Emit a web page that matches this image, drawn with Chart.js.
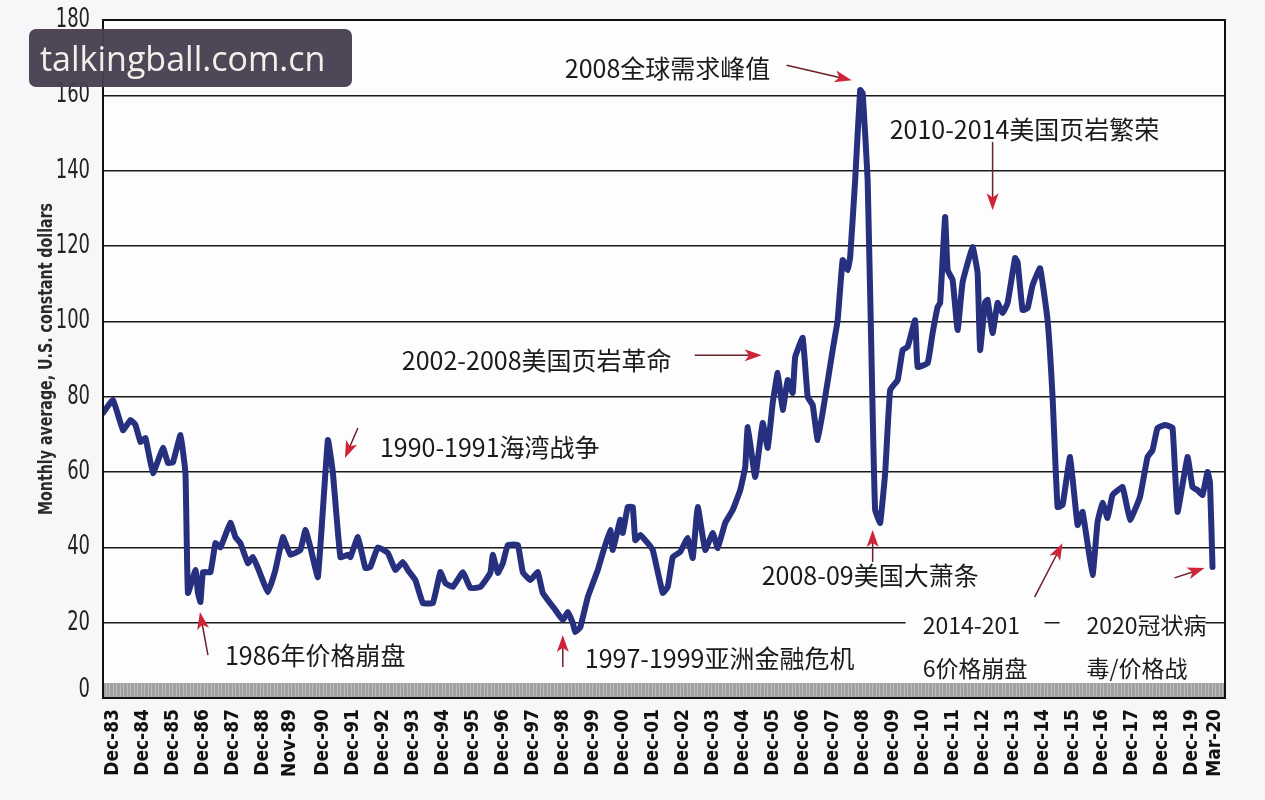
<!DOCTYPE html>
<html>
<head>
<meta charset="utf-8">
<script src="https://cdn.jsdelivr.net/npm/chart.js@4.4.1/dist/chart.umd.min.js"></script>
<style>
  html, body { margin: 0; padding: 0; background: #f7f7f9; }
  #wrap { width: 1265px; height: 800px; }
</style>
</head>
<body>
<div id="wrap"><canvas id="graph"></canvas></div>
<script>
// months after Dec-83, as placed along the chart's x axis
const monthIdx = [-4,0,4,7,9,11,13,16,20,22,24,27,29,30,33,34,35,36,39,41,43,47,49,51,54,56,58,62,65,68,
  71,75,77,79,82,86,88,91,94,95,98,101,103,106,110,113,116,118,121,124,128,131,133,136,140,143,147,151,152,154,
  156,158,162,164,167,170,172,177,180,182,184,185,187,190,194,196,199,200,203,204,206,208,209,211,214,216,220,222,224,227,
  230,232,234,237,240,242,245,248,251,253,254,257,260,262,264,266,268,270,272,273,276,278,280,282,285,288,290,292,294,295,
  297,299,300,302,304,305,307,309,311,314,316,318,321,322,326,328,330,331,333,334,336,338,340,344,346,347,349,350,352,354,
  356,358,361,362,364,366,368,371,374,376,378,380,383,386,388,392,394,396,398,400,404,407,411,414,416,418,421,424,426,430,
  432,434,436,438,439,440];

// monthly average, U.S. constant dollars
const priceValues = [75.7,79.1,71.1,73.8,72.5,68,69,59.7,66.4,62.4,62.6,69.8,59.7,27.9,34,27.9,25.5,33.4,33.4,41.1,40,46.5,42.7,41.1,35.8,37.4,34.5,28.1,34,42.7,
  38,39.3,44.6,40,32.1,68.5,59.7,37.4,38,37.4,42.7,34.5,34.8,40,38.5,34,36.1,34,31.3,25.2,25.2,33.4,30.5,29.5,33.4,29.2,29.5,33.2,38,33.2,
  35.8,40.6,40.6,33.4,31.3,33.4,27.9,23.4,20.7,22.8,19.9,17.5,18.8,26.8,34,38.5,44.6,39.3,47.3,43.8,50.7,50.7,41.9,43.3,41.1,39.3,27.9,29.5,37.4,38.8,
  42.5,37.2,50.7,39.3,43.8,39.8,46.5,49.9,55.2,61.3,71.9,58.7,73,66.4,78.3,86.3,76.5,84.4,81,90.5,95.6,79.9,77.8,68.5,79.9,92.4,100.3,116.3,113.6,117.1,
  137.5,161.4,160.6,137.5,75.7,49.9,46.5,59.7,81.8,84.4,92.4,93.2,100.3,87.9,88.9,96.9,103.8,104.9,127.7,113.6,111,97.7,110.4,119.7,112.8,92.4,105.1,105.7,96.9,104.9,
  102.2,104.9,116.8,115.7,103,103.5,109.6,114.1,100.3,79.9,50.7,51.2,64,45.9,49.4,32.7,46.7,51.8,47.8,53.9,56,47.3,53.4,64,65.8,71.7,72.5,71.7,49.4,64,
  56,55.2,53.9,60,57.1,34.8];

const tickMonths = [0,12,24,36,48,60,71,84,96,108,120,132,144,156,168,180,192,204,216,228,240,252,264,276,288,300,312,324,336,348,360,372,384,396,408,420,432,441];
const tickLabels = ['Dec-83','Dec-84','Dec-85','Dec-86','Dec-87','Dec-88','Nov-89','Dec-90','Dec-91','Dec-92','Dec-93','Dec-94','Dec-95',
  'Dec-96','Dec-97','Dec-98','Dec-99','Dec-00','Dec-01','Dec-02','Dec-03','Dec-04','Dec-05','Dec-06','Dec-07','Dec-08','Dec-09','Dec-10',
  'Dec-11','Dec-12','Dec-13','Dec-14','Dec-15','Dec-16','Dec-17','Dec-18','Dec-19','Mar-20'];
const yTicks = [0,20,40,60,80,100,120,140,160,180];
const bandLevel = 4;

const notes = [
  { text: '2008全球需求峰值', x: 180.8, y: 167.2 },
  { text: '2010-2014美国页岩繁荣', x: 310.8, y: 150.8 },
  { text: '2002-2008美国页岩革命', x: 115.6, y: 89.7 },
  { text: '1990-1991海湾战争', x: 106.8, y: 66.4 },
  { text: '2008-09美国大萧条', x: 259.6, y: 32.4 },
  { text: '1986年价格崩盘', x: 44.8, y: 11.4 },
  { text: '1997-1999亚洲金融危机', x: 188.8, y: 10.4 },
  { text: '2014-201', x: 324, y: 19.4, small: true },
  { text: '6价格崩盘', x: 324, y: 8, small: true },
  { text: '2020冠状病', x: 389.6, y: 19.4, small: true },
  { text: '毒/价格战', x: 389.6, y: 8, small: true }
];
const noteBoxes = [
  { x0: 317.2, x1: 372.8, y0: 4, y1: 25 },
  { x0: 378.8, x1: 437.2, y0: 4, y1: 25 }
];
const arrows = [
  [269.6, 168, 295.6, 164],
  [352, 147.6, 352, 129.5],
  [232.8, 91, 259.6, 91],
  [98, 71.7, 92.8, 63.7],
  [304, 36.1, 304, 44.6],
  [38, 11.4, 34.8, 22.8],
  [180, 8.2, 180, 16.7],
  [368.8, 26.8, 380, 41.1],
  [424.8, 31.9, 436.8, 34.5]
];

var ctx = document.getElementById('graph').getContext('2d');

// striped grey band along the zero line
const pc = document.createElement('canvas');
pc.width = 7; pc.height = 4;
const pctx = pc.getContext('2d');
pctx.fillStyle = '#a0a0a0'; pctx.fillRect(0, 0, 7, 4);
pctx.fillStyle = '#bdbdbd'; pctx.fillRect(1, 0, 1, 4); pctx.fillRect(4, 0, 1, 4);
const bandPattern = ctx.createPattern(pc, 'repeat');

function drawArrow(c, x1, y1, x2, y2) {
  const ang = Math.atan2(y2 - y1, x2 - x1);
  const len = 17, half = 6;
  c.strokeStyle = '#6b1f27';
  c.lineWidth = 1.5;
  c.beginPath();
  c.moveTo(x1, y1);
  c.lineTo(x2 - Math.cos(ang) * len * 0.6, y2 - Math.sin(ang) * len * 0.6);
  c.stroke();
  c.save();
  c.translate(x2, y2);
  c.rotate(ang);
  c.fillStyle = '#cf2437';
  c.beginPath();
  c.moveTo(0, 0);
  c.lineTo(-len, -half);
  c.lineTo(-len * 0.75, 0);
  c.lineTo(-len, half);
  c.closePath();
  c.fill();
  c.restore();
}

const decor = {
  id: 'decor',
  beforeDraw(chart) {
    const { ctx, chartArea: a } = chart;
    ctx.save();
    ctx.fillStyle = '#f7f7f9';
    ctx.fillRect(0, 0, chart.width, chart.height);
    ctx.fillStyle = '#fdfdfe';
    ctx.fillRect(a.left, a.top, a.right - a.left, a.bottom - a.top);
    ctx.restore();
  },
  afterDatasetsDraw(chart) {
    const { ctx, scales: { x, y } } = chart;
    ctx.save();
    ctx.fillStyle = '#fdfdfe';
    noteBoxes.forEach(b => {
      const l = x.getPixelForValue(b.x0), r = x.getPixelForValue(b.x1);
      const t = y.getPixelForValue(b.y1), btm = y.getPixelForValue(b.y0);
      ctx.fillRect(l, t, r - l, btm - t);
    });
    ctx.fillStyle = '#1b1b1b';
    ctx.textAlign = 'left';
    ctx.textBaseline = 'middle';
    notes.forEach(n => {
      ctx.font = (n.small ? '23px' : '25px') + ' "Noto Sans CJK SC", "Noto Sans", sans-serif';
      ctx.fillText(n.text, x.getPixelForValue(n.x), y.getPixelForValue(n.y));
    });
    arrows.forEach(ar => drawArrow(ctx,
      x.getPixelForValue(ar[0]), y.getPixelForValue(ar[1]),
      x.getPixelForValue(ar[2]), y.getPixelForValue(ar[3])));
    ctx.restore();
  },
  afterDraw(chart) {
    const { ctx, chartArea: a, scales: { y } } = chart;
    ctx.save();
    // frame
    ctx.strokeStyle = '#111';
    ctx.lineWidth = 2;
    ctx.strokeRect(a.left, a.top, a.right - a.left, a.bottom - a.top);
    // y tick labels, condensed
    ctx.fillStyle = '#222';
    ctx.font = '27px "Liberation Sans Narrow", "DejaVu Sans Condensed", sans-serif';
    ctx.textAlign = 'right';
    ctx.textBaseline = 'middle';
    yTicks.forEach(v => {
      let py = y.getPixelForValue(v);
      if (v === 0) py -= 8;
      ctx.save();
      ctx.translate(a.left - 13, py);
      ctx.scale(0.74, 1);
      ctx.fillText(String(v), 0, 0);
      ctx.restore();
    });
    // y title
    ctx.save();
    ctx.translate(47, (a.top + a.bottom) / 2);
    ctx.rotate(-Math.PI / 2);
    ctx.scale(0.83, 1);
    ctx.fillStyle = '#2a2a2a';
    ctx.font = 'bold 19px "Liberation Sans Narrow", "DejaVu Sans Condensed", sans-serif';
    ctx.textAlign = 'center';
    ctx.fillText('Monthly average, U.S. constant dollars', 0, 0);
    ctx.restore();
    // site stamp
    ctx.fillStyle = 'rgba(72, 62, 80, 0.96)';
    ctx.beginPath();
    ctx.roundRect(29, 29, 323, 58, 7);
    ctx.fill();
    ctx.fillStyle = '#f4efea';
    ctx.font = '34px "Open Sans", "Noto Sans", sans-serif';
    ctx.textAlign = 'left';
    ctx.textBaseline = 'middle';
    ctx.fillText('talkingball.com.cn', 40, 61);
    ctx.restore();
  }
};

new Chart(ctx, {
  type: 'line',
  data: {
    datasets: [
      {
        label: 'Monthly average',
        data: monthIdx.map((m, i) => ({ x: m, y: priceValues[i] })),
        borderColor: '#26307e',
        borderWidth: 6,
        pointRadius: 0,
        tension: 0.1,
        borderJoinStyle: 'round',
        borderCapStyle: 'round',
        fill: false,
        order: 1
      },
      {
        label: 'band',
        data: [{ x: -4, y: bandLevel }, { x: 445, y: bandLevel }],
        borderWidth: 0,
        pointRadius: 0,
        backgroundColor: bandPattern,
        fill: 'origin',
        order: 2
      }
    ]
  },
  options: {
    responsive: true,
    maintainAspectRatio: false,
    animation: false,
    devicePixelRatio: 1,
    layout: { padding: { left: 0, top: 20, right: 40, bottom: 0 } },
    plugins: {
      legend: { display: false },
      tooltip: { enabled: false }
    },
    scales: {
      x: {
        type: 'linear',
        min: -4,
        max: 445,
        afterFit: s => { s.height = 102; },
        afterBuildTicks: s => { s.ticks = tickMonths.map(v => ({ value: v })); },
        grid: { display: false, drawTicks: false },
        border: { display: false },
        ticks: {
          autoSkip: false,
          minRotation: 90,
          maxRotation: 90,
          padding: 11,
          color: '#111',
          font: { family: '"Liberation Sans Narrow", "DejaVu Sans Condensed", sans-serif', size: 19, weight: 'bold' },
          callback: (value, index) => tickLabels[index]
        }
      },
      y: {
        min: 0,
        max: 180,
        afterFit: s => { s.width = 103; },
        afterBuildTicks: s => { s.ticks = yTicks.map(v => ({ value: v })); },
        grid: { color: '#1a1a1a', lineWidth: 1.5, drawTicks: false },
        border: { display: false },
        ticks: { display: false }
      }
    }
  },
  plugins: [decor]
});
</script>
</body>
</html>
